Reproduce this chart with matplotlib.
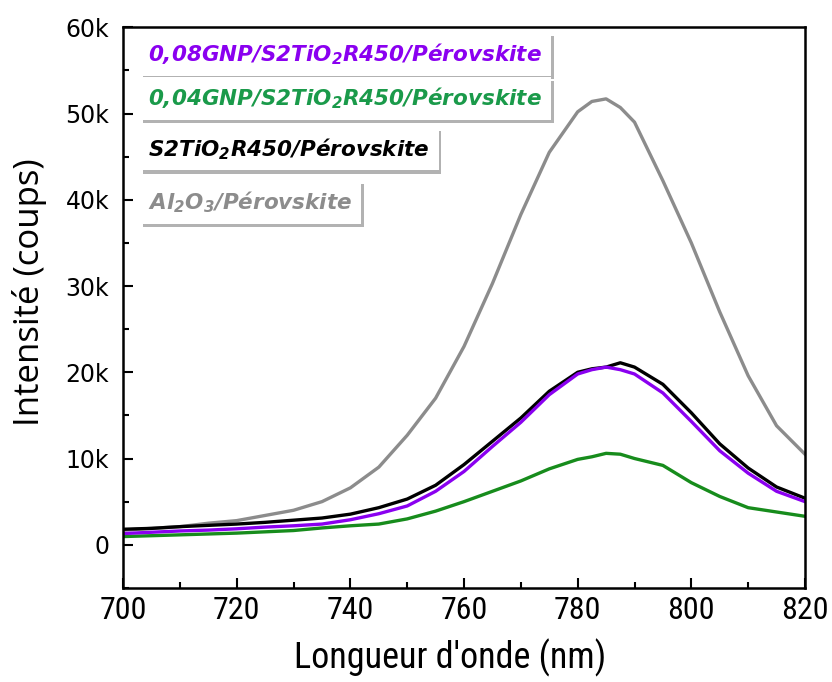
import matplotlib
matplotlib.use('Agg')
import matplotlib.pyplot as plt
import matplotlib.patheffects as pe
from matplotlib.ticker import FuncFormatter, MultipleLocator

# wavelength (nm) and intensity (counts)
wavelength = [700, 705, 710, 715, 720, 725, 730, 735, 740, 745, 750, 755, 760, 765,
              770, 775, 780, 782.5, 785, 787.5, 790, 795, 800, 805, 810, 815, 820]
al2o3 = [1700, 1900, 2100, 2500, 2800, 3400, 4000, 5000, 6600, 9000, 12700, 17000, 23000, 30300,
         38300, 45500, 50200, 51400, 51700, 50700, 49000, 42200, 35000, 27000, 19600, 13800, 10500]
s2tio2 = [1800, 1900, 2100, 2250, 2400, 2600, 2850, 3100, 3550, 4300, 5300, 6900, 9300, 12000,
          14700, 17800, 20000, 20400, 20600, 21100, 20600, 18600, 15300, 11700, 8900, 6700, 5400]
gnp008 = [1300, 1450, 1600, 1700, 1850, 2050, 2200, 2400, 2900, 3600, 4500, 6200, 8500, 11400,
          14200, 17400, 19800, 20300, 20600, 20300, 19800, 17600, 14300, 10900, 8300, 6200, 5000]
gnp004 = [950, 1050, 1150, 1250, 1350, 1500, 1650, 1950, 2200, 2400, 3000, 3900, 5000, 6200,
          7400, 8800, 9900, 10200, 10600, 10500, 10000, 9200, 7200, 5600, 4300, 3800, 3300]

labels = [r'0,08GNP/S2TiO$_\mathregular{2}$R450/Pérovskite',
          r'0,04GNP/S2TiO$_\mathregular{2}$R450/Pérovskite',
          r'S2TiO$_\mathregular{2}$R450/Pérovskite',
          r'Al$_\mathregular{2}$O$_\mathregular{3}$/Pérovskite']
line_colors = ['#8a00f0', '#178c1c', 'black', '#8c8c8c']
text_colors = ['#8a00f0', '#1a9a4a', 'black', '#8c8c8c']

narrow = ['Roboto Condensed', 'PT Sans Narrow', 'Archivo Narrow', 'Liberation Sans Narrow', 'DejaVu Sans']

plt.rcParams['mathtext.fontset'] = 'custom'
plt.rcParams['mathtext.rm'] = 'DejaVu Sans:bold:italic'

fig = plt.figure(figsize=(8.32, 6.82), dpi=100)
ax = fig.add_axes([0.148, 0.138, 0.8195, 0.822])

series = [gnp008, gnp004, s2tio2, al2o3]
# gray first, then green, black, purple on top
for ys, c in zip(series[::-1], line_colors[::-1]):
    ax.plot(wavelength, ys, color=c, lw=2.4, solid_joinstyle='round')

ax.set_xlim(700, 820)
ax.set_ylim(-5000, 60000)
ax.xaxis.set_major_locator(MultipleLocator(20))
ax.xaxis.set_minor_locator(MultipleLocator(10))
ax.yaxis.set_major_locator(MultipleLocator(10000))
ax.yaxis.set_minor_locator(MultipleLocator(5000))
ax.yaxis.set_major_formatter(FuncFormatter(lambda v, p: '0' if v == 0 else f'{int(v/1000)}k'))
ax.tick_params(which='both', direction='in', width=1.5)
ax.tick_params(which='major', length=7)
ax.tick_params(which='minor', length=4)
ax.tick_params(axis='y', labelsize=17, pad=10)
ax.tick_params(axis='x', pad=6)
for lbl in ax.get_xticklabels():
    lbl.set_family(narrow)
    lbl.set_fontsize(23)
for sp in ax.spines.values():
    sp.set_linewidth(1.8)

ax.set_xlabel("Longueur d'onde (nm)", fontsize=26, family=narrow)
ax.set_ylabel('Intensité (coups)', fontsize=25, family='Open Sans')
ax.xaxis.set_label_coords(0.479, -0.09)
ax.yaxis.set_label_coords(-0.111, 0.528)

# legend as separate shadowed boxes
ypos = [0.952, 0.873, 0.783, 0.688]
for lab, tc, yy in zip(labels, text_colors, ypos):
    t = ax.text(0.037, yy, lab, transform=ax.transAxes, color=tc, fontsize=15.5,
                fontweight='bold', style='italic', family='DejaVu Sans',
                va='center', ha='left',
                bbox=dict(boxstyle='square,pad=0.4', fc='white', ec='none'))
    t.get_bbox_patch().set_path_effects([
        pe.withSimplePatchShadow(offset=(2, -2.5), shadow_rgbFace='#555555', alpha=0.45),
        pe.Normal()])

fig.savefig('out.png', dpi=100, facecolor='white')
